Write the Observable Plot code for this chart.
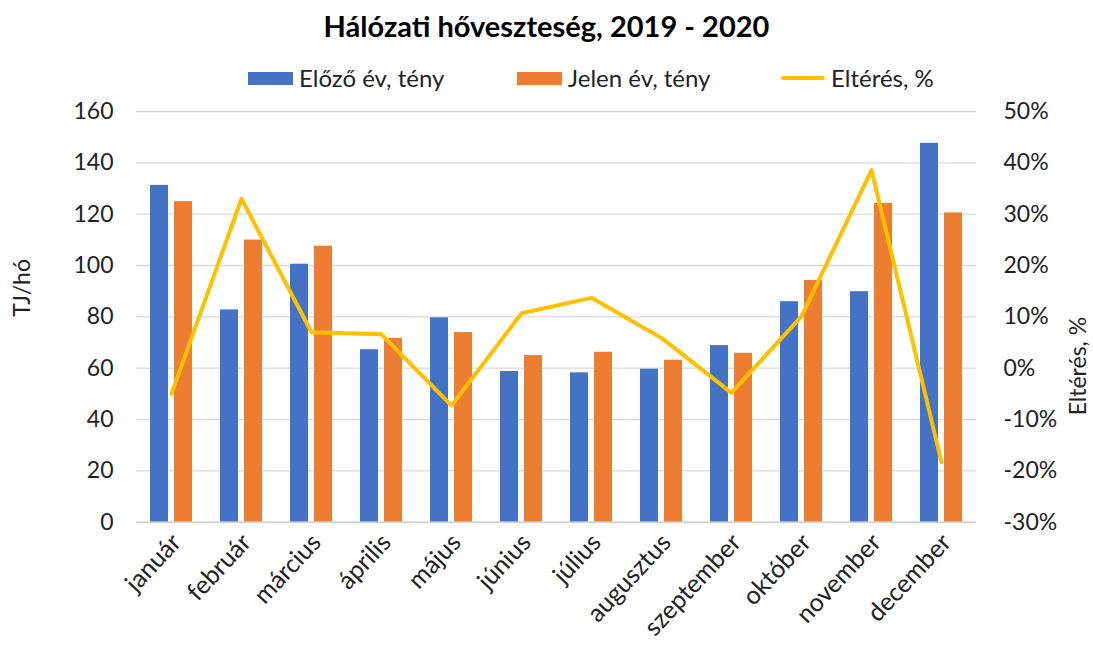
<!DOCTYPE html>
<html><head><meta charset="utf-8">
<script src="https://cdn.jsdelivr.net/npm/d3@7"></script>
<script src="https://cdn.jsdelivr.net/npm/@observablehq/plot@0.6"></script>
<style>
body{margin:0;background:#fff;font-family:Lato,"Open Sans",sans-serif;}
#wrap{width:1093px;height:646px;position:relative;overflow:hidden;}
#title{position:absolute;left:0;width:1093px;top:11px;line-height:29px;text-align:center;font-weight:bold;font-size:29px;color:#000;}
.lg{position:absolute;top:66px;line-height:24px;font-size:24px;color:#222;white-space:nowrap;}
.sw{position:absolute;top:72px;width:45px;height:13px;}
.ln{position:absolute;top:76px;width:44px;height:4px;border-radius:2px;}
#chart{position:absolute;left:0;top:95px;}
</style></head>
<body><div id="wrap">
<div id="title">Hálózati hőveszteség, 2019 - 2020</div>
<div class="sw" style="left:248px;background:#4472C4"></div><div class="lg" style="left:299px">Előző év, tény</div>
<div class="sw" style="left:517px;background:#ED7D31"></div><div class="lg" style="left:568px">Jelen év, tény</div>
<div class="ln" style="left:781px;background:#FFC000"></div><div class="lg" style="left:831px">Eltérés, %</div>
<div id="chart"></div>
</div>
<script>
const months = ["január","február","március","április","május","június","július","augusztus","szeptember","október","november","december"];
const prevYear = [131.2, 82.7, 100.5, 67.2, 79.6, 58.7, 58.2, 59.6, 68.8, 85.9, 89.8, 147.6];
const currYear = [124.9, 109.9, 107.5, 71.6, 73.9, 64.9, 66.2, 63.1, 65.8, 94.2, 124.2, 120.5];
const diffPct  = [-5.0, 33.0, 7.0, 6.6, -7.3, 10.7, 13.7, 5.9, -4.8, 10.1, 38.6, -18.3];
const leftTicks = [0,20,40,60,80,100,120,140,160];
const rightTicks = [-30,-20,-10,0,10,20,30,40,50];
const leftMax = 160, pctMin = -30, pctMax = 50;

const rows = months.map((m,i)=>({month:m, prev:prevYear[i], curr:currYear[i], diff:diffPct[i]}));
const toLeft = p => (p - pctMin) * leftMax / (pctMax - pctMin);
const fromLeft = v => v * (pctMax - pctMin) / leftMax + pctMin;

const chart = Plot.plot({
  width:1093, height:551,
  marginTop:16, marginBottom:124.3, marginLeft:136, marginRight:117,
  style:{fontFamily:'Lato,"Open Sans",sans-serif', fontSize:"23px", color:"#222", background:"white", overflow:"visible"},
  x:{domain:months, padding:0, label:null},
  y:{domain:[0,leftMax], label:null},
  marks:[
    Plot.gridY(leftTicks,{stroke:"#d9d9d9", strokeOpacity:1, strokeWidth:1.3}),
    Plot.barY(rows,{x:"month", y:"prev", fill:"#4472C4", insetLeft:14, insetRight:38}),
    Plot.barY(rows,{x:"month", y:"curr", fill:"#ED7D31", insetLeft:38, insetRight:14}),
    Plot.ruleY([0],{stroke:"#d0d0d0", strokeWidth:1.3}),
    Plot.lineY(rows,{x:"month", y:d=>toLeft(d.diff), stroke:"#FFC000", strokeWidth:4, strokeLinejoin:"round", strokeLinecap:"round"}),
    Plot.axisY(leftTicks,{anchor:"left", tickSize:0, tickPadding:23, label:null, fontSize:23}),
    Plot.axisY(rightTicks.map(toLeft),{anchor:"right", tickSize:0, tickPadding:27, label:null, fontSize:23, tickFormat:v=>`${Math.round(fromLeft(v))}%`}),
    Plot.axisX({tickRotate:-47, tickSize:0, tickPadding:16, dx:5, label:null, fontSize:25}),
    Plot.text(["TJ/hó"],{frameAnchor:"left", rotate:-90, dx:-114, fontSize:23, fill:"#222"}),
    Plot.text(["Eltérés, %"],{frameAnchor:"right", rotate:-90, dx:102, dy:0, fontSize:23, fill:"#222"})
  ]
});
document.getElementById("chart").appendChild(chart);
</script>
</body></html>
